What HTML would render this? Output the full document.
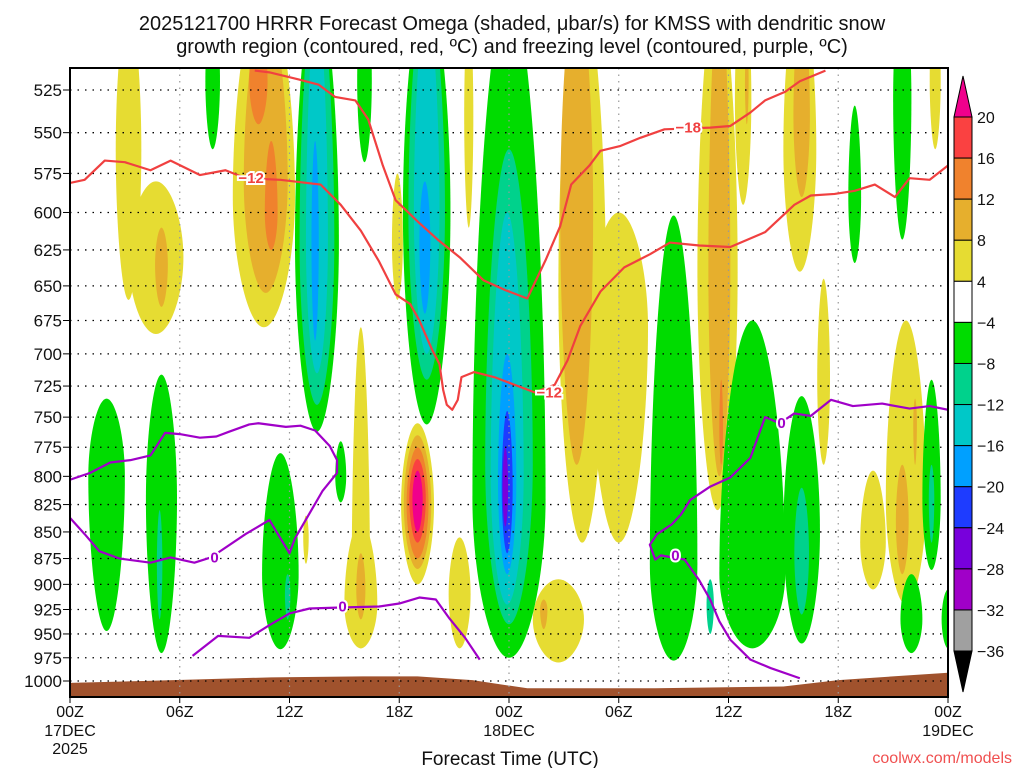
<!DOCTYPE html>
<html><head><meta charset="utf-8"><style>
body{margin:0;background:#fff;}
svg text{font-family:"Liberation Sans","DejaVu Sans",sans-serif;}
</style></head><body>
<svg id="chart" width="1024" height="768" viewBox="0 0 1024 768" xmlns="http://www.w3.org/2000/svg">
<rect width="1024" height="768" fill="#fff"/>
<text x="512" y="30" font-size="20" text-anchor="middle" fill="#111">2025121700 HRRR Forecast Omega (shaded, μbar/s) for KMSS with dendritic snow</text>
<text x="512" y="53" font-size="20" text-anchor="middle" fill="#111">growth region (contoured, red, ºC) and freezing level (contoured, purple, ºC)</text>
<defs><clipPath id="plotclip"><rect x="70" y="68" width="878" height="629"/></clipPath></defs>
<g id="shading" clip-path="url(#plotclip)"></g>
<g id="terrain" clip-path="url(#plotclip)"></g>
<g id="grid"></g>
<g id="lines" clip-path="url(#plotclip)"></g>
<g id="labels"></g>
<rect x="70" y="68" width="878" height="629" fill="none" stroke="#000" stroke-width="2"/>
<g id="yaxis"></g>
<g id="xaxis"></g>
<text x="510" y="765" font-size="19" text-anchor="middle" fill="#111">Forecast Time (UTC)</text>
<text x="1012" y="763" font-size="16" text-anchor="end" fill="#f05050">coolwx.com/models</text>
<g id="colorbar"></g>
</svg>
<script>
// ---- data ----
const pressureTicks = [525,550,575,600,625,650,675,700,725,750,775,800,825,850,875,900,925,950,975,1000];
const hourTicks = [0,6,12,18,24,30,36,42,48];
const hourTickLabels = ["00Z","06Z","12Z","18Z","00Z","06Z","12Z","18Z","00Z"];
const dateLabels = [[0,"17DEC"],[24,"18DEC"],[48,"19DEC"]];
const cbLevels = ["20","16","12","8","4","−4","−8","−12","−16","−20","−24","−28","−32","−36"];
const levelColors = {m:"#f0008c",r:"#fa4141",o:"#f0822d",t:"#e6af2d",y:"#e6dc32",g:"#00dc00",tl:"#00d28c",c:"#00c8c8",b:"#00a0ff",db:"#1e3cff",p:"#7800dc",v:"#a000c8",gr:"#a0a0a0"};
// blobs: [hourCenter, halfWidthHours, pTop, pWidest, pBottom, level]
const omegaBlobs = [
 [3.2,0.7,480,560,660,'y'],[4.7,1.5,580,630,685,'y'],[5.0,0.35,610,635,665,'t'],
 [10.6,1.7,470,590,680,'y'],[10.7,1.2,480,580,655,'t'],[10.3,0.5,490,520,545,'o'],[11.0,0.35,555,600,625,'o'],
 [17.9,0.3,575,620,660,'y'],[21.8,0.25,480,540,610,'y'],
 [15.9,0.5,680,900,965,'y'],[15.9,0.9,840,920,965,'y'],[15.9,0.25,870,905,935,'t'],
 [19.0,0.9,755,825,900,'y'],[19.0,0.75,765,825,885,'t'],[19.0,0.6,775,825,875,'o'],[19.0,0.45,785,820,860,'r'],[19.0,0.28,795,820,850,'m'],
 [21.3,0.6,855,910,965,'y'],[12.9,0.15,835,855,880,'y'],
 [26.7,1.4,895,935,980,'y'],[25.9,0.2,915,925,945,'t'],
 [28.0,1.3,470,650,860,'y'],[30.0,1.6,600,680,860,'y'],[27.7,0.9,470,600,790,'t'],
 [35.4,1.1,470,640,830,'y'],[35.5,0.6,470,640,800,'t'],[35.6,0.1,720,760,790,'o'],
 [36.8,0.45,470,530,595,'y'],[37.0,0.1,500,520,545,'t'],
 [39.9,0.9,470,560,640,'y'],[40.0,0.45,480,540,590,'t'],
 [41.2,0.35,645,720,790,'y'],[43.9,0.7,795,860,905,'y'],
 [45.7,1.1,675,820,920,'y'],[45.5,0.35,790,840,890,'t'],[46.2,0.1,735,755,790,'t'],
 [47.3,0.3,470,520,560,'y'],
 [7.8,0.4,480,520,560,'g'],
 [13.5,1.2,470,620,762,'g'],[13.5,0.95,470,620,740,'tl'],[13.5,0.6,480,620,715,'c'],[13.4,0.2,555,620,690,'b'],
 [16.1,0.4,470,520,568,'g'],
 [19.5,1.3,470,600,756,'g'],[19.5,1.0,470,600,720,'tl'],[19.5,0.7,480,600,700,'c'],[19.4,0.3,580,620,670,'b'],
 [24.0,2.0,470,820,975,'g'],[24.0,1.3,560,790,940,'tl'],[23.9,0.9,600,800,920,'c'],[23.9,0.5,700,805,890,'b'],[23.9,0.3,745,810,870,'db'],[23.8,0.15,775,810,845,'p'],
 [2.0,1.0,735,800,947,'g'],[5.0,0.85,716,820,970,'g'],[4.9,0.15,830,880,935,'tl'],
 [11.5,1.0,780,890,966,'g'],[11.9,0.15,890,910,935,'tl'],[14.8,0.3,770,800,823,'g'],
 [33.0,1.3,602,880,978,'g'],[37.3,1.8,675,890,965,'g'],[40.0,1.0,733,850,960,'g'],[40.0,0.4,810,870,930,'tl'],[35.0,0.2,895,920,950,'tl'],
 [42.9,0.35,534,590,634,'g'],[45.5,0.5,470,530,618,'g'],[47.1,0.5,720,820,886,'g'],[47.1,0.15,790,820,860,'tl'],
 [46.0,0.6,890,935,970,'g'],[48.0,0.35,905,935,965,'g']
];
const surfHours = [0,4,11,16,19,22,25,32,39,42,48];
const surfPres = [1002,1000,996,995,995,999,1008,1008,1006,999,991];
const red12Hours = [0,0.8,1.9,3.0,4.4,5.5,7.1,8.5,9.6,11.5,13.7,14.8,15.9,16.9,17.8,18.6,19.1,19.8,20.2,20.4,20.6,20.9,21.2,21.4,22.1,23.2,24.3,25.4,26.5,27.2,27.9,29.0,30.3,31.7,32.8,34.4,36.1,38.0,39.6,40.5,41.8,42.9,44.0,45.1,45.9,47.0,48];
const red12Pres = [581,579,567,568,573,567,576,573,578,579,582,595,612,633,656,663,675,697,708,728,740,744,736,718,714,718,724,730,724,705,679,654,637,628,620,622,623,613,595,589,588,586,582,590,578,579,570];
const red18Hours = [10.1,10.9,12.5,13.6,14.5,15.6,16.3,17.1,17.8,19.1,20.1,21.3,22.6,23.8,25.0,26.0,26.8,27.4,28.4,29.0,30.1,31.2,32.5,35.0,36.1,37.2,38.0,39.1,39.9,41.3];
const red18Pres = [514,515,519,522,529,531,542,570,592,607,618,630,646,653,659,632,609,582,570,561,558,553,548,547,546,538,531,526,520,514];
const frzAHours = [0,1.1,2.2,3.3,4.4,5.2,6.0,7.1,8.0,8.7,9.8,10.3,11.8,12.6,13.4,14.2,14.6,14.6,13.8,13.2,12.3,12.0,10.9,9.6,7.7,6.8,5.5,4.4,2.7,1.6,0.8,0];
const frzAPres = [803,797,788,786,782,763,764,767,766,762,756,755,758,757,761,774,786,797,813,830,856,870,839,852,874,879,874,879,875,868,852,837];
const frzBHours = [6.7,8.1,9.8,10.9,12.0,13.1,14.8,16.9,18.0,19.1,20.0,20.7,21.6,22.4];
const frzBPres = [973,952,954,941,929,924,923,922,919,913,915,933,954,977];
const frzCHours = [48,47,45.9,44.4,42.8,41.6,40.5,39.6,38.8,38.0,37.2,36.1,35.0,33.9,33.4,32.9,32.1,31.7,32.0,32.3,33.6,34.4,35.0,35.5,36.1,37.2,38.3,39.9];
const frzCPres = [744,741,743,739,741,736,749,747,755,750,784,801,809,821,834,843,852,862,876,872,876,896,915,937,956,977,986,997];
const contourLabels = [[9.9,578,"−12","#f04040"],[26.2,730,"−12","#f04040"],[33.8,547,"−18","#f04040"],[7.9,874,"0","#a000c8"],[14.9,922,"0","#a000c8"],[33.1,872,"0","#a000c8"],[38.9,755,"0","#a000c8"]];

// ---- axes ----
const X0=70,X1=948,YT=68,YB=697;
const xs = h => X0 + h*(X1-X0)/48;
const ys = p => 681 - Math.log(1000/p)/Math.log(1000/525)*591;
const NS="http://www.w3.org/2000/svg";
function mk(tag, parent, attrs){const e=document.createElementNS(NS,tag);for(const k in attrs)e.setAttribute(k,attrs[k]);parent.appendChild(e);return e;}

// shading
const gS=document.getElementById('shading');
omegaBlobs.forEach(b=>{
  const [hc,hw,pt,pw,pb,lv]=b;
  const xc=xs(hc), dx=hw*(X1-X0)/48, yT=ys(pt), yW=ys(pw), yB=ys(pb);
  const d=`M${xc},${yT} C${xc+dx*0.5},${yT} ${xc+dx},${yW-(yW-yT)*0.5} ${xc+dx},${yW} C${xc+dx},${yW+(yB-yW)*0.5} ${xc+dx*0.5},${yB} ${xc},${yB} C${xc-dx*0.5},${yB} ${xc-dx},${yW+(yB-yW)*0.5} ${xc-dx},${yW} C${xc-dx},${yW-(yW-yT)*0.5} ${xc-dx*0.5},${yT} ${xc},${yT} Z`;
  const e=mk('path',gS,{d:d,fill:levelColors[lv]});
  
  
});
// terrain
const gT=document.getElementById('terrain');
let td=`M${X0},${YB}`;
surfHours.forEach((h,i)=>{td+=` L${xs(h)},${ys(surfPres[i])}`;});
td+=` L${X1},${YB} Z`;
const terr=mk('path',gT,{d:td,fill:"#a0522d"});



// grid
const gG=document.getElementById('grid');
pressureTicks.forEach(p=>{
  const l=mk('line',gG,{x1:X0,x2:X1,y1:ys(p),y2:ys(p),stroke:"#000","stroke-width":1.3,"stroke-dasharray":"1.5 6"});
  
  
});
hourTicks.slice(1,-1).forEach(h=>{
  const l=mk('line',gG,{x1:xs(h),x2:xs(h),y1:YT,y2:YB,stroke:"#999","stroke-width":1.2,"stroke-dasharray":"1.5 5"});
  
  
});

// contour lines
const gL=document.getElementById('lines');
function line(hs,ps,color,name){
  const pts=hs.map((h,i)=>xs(h)+','+ys(ps[i])).join(' ');
  const e=mk('polyline',gL,{points:pts,fill:"none",stroke:color,"stroke-width":2.2,"stroke-linejoin":"round"});
  
  
}
line(red12Hours,red12Pres,"#f04040","dgz-minus12-contour");
line(red18Hours,red18Pres,"#f04040","dgz-minus18-contour");
line(frzAHours,frzAPres,"#a000c8","freezing-level-contour-a");
line(frzBHours,frzBPres,"#a000c8","freezing-level-contour-b");
line(frzCHours,frzCPres,"#a000c8","freezing-level-contour-c");
const gLb=document.getElementById('labels');
contourLabels.forEach(c=>{
  const t=mk('text',gLb,{x:xs(c[0]),y:ys(c[1])+5,"font-size":15,"font-weight":"bold","text-anchor":"middle",fill:c[3],stroke:"#fff","stroke-width":4,"paint-order":"stroke"});
  t.textContent=c[2];
  
  
});

// y axis
const gY=document.getElementById('yaxis');
pressureTicks.forEach(p=>{
  const t=mk('text',gY,{x:62,y:ys(p)+6,"font-size":17,"text-anchor":"end",fill:"#111"});
  t.textContent=p;
  
  
  const k=mk('line',gY,{x1:63,x2:70,y1:ys(p),y2:ys(p),stroke:"#000","stroke-width":1});
  
  
});
// x axis
const gX=document.getElementById('xaxis');
hourTicks.forEach((h,i)=>{
  const t=mk('text',gX,{x:xs(h),y:717,"font-size":16,"text-anchor":"middle",fill:"#111"});
  t.textContent=hourTickLabels[i];
  
  
  const k=mk('line',gX,{x1:xs(h),x2:xs(h),y1:697,y2:703,stroke:"#000","stroke-width":1});
  
  
});
dateLabels.forEach(d=>{
  const t=mk('text',gX,{x:xs(d[0]),y:736,"font-size":16,"text-anchor":"middle",fill:"#111"});
  t.textContent=d[1];
  
  
});
const yr=mk('text',gX,{x:xs(0),y:754,"font-size":16,"text-anchor":"middle",fill:"#111"});
yr.textContent="2025";



// colorbar
const gC=document.getElementById('colorbar');
const cbColors=["#fa4141","#f0822d","#e6af2d","#e6dc32","#ffffff","#00dc00","#00d28c","#00c8c8","#00a0ff","#1e3cff","#7800dc","#a000c8","#a0a0a0"];
const cbX=954,cbW=18,cbTop=117,cbStep=41.08;
const tri1=mk('path',gC,{d:`M${cbX},${cbTop} L${cbX+cbW/2},76 L${cbX+cbW},${cbTop} Z`,fill:"#f0008c",stroke:"#000","stroke-width":1});


cbColors.forEach((c,i)=>{
  const r=mk('rect',gC,{x:cbX,y:cbTop+i*cbStep,width:cbW,height:cbStep,fill:c,stroke:"#000","stroke-width":1});
  
  
});
const yEnd=cbTop+13*cbStep;
const tri2=mk('path',gC,{d:`M${cbX},${yEnd} L${cbX+cbW/2},${yEnd+41} L${cbX+cbW},${yEnd} Z`,fill:"#000",stroke:"#000","stroke-width":1});


cbLevels.forEach((l,i)=>{
  const t=mk('text',gC,{x:977,y:cbTop+i*cbStep+6,"font-size":16,fill:"#111"});
  t.textContent=l;
  
  
});
</script>
</body></html>
